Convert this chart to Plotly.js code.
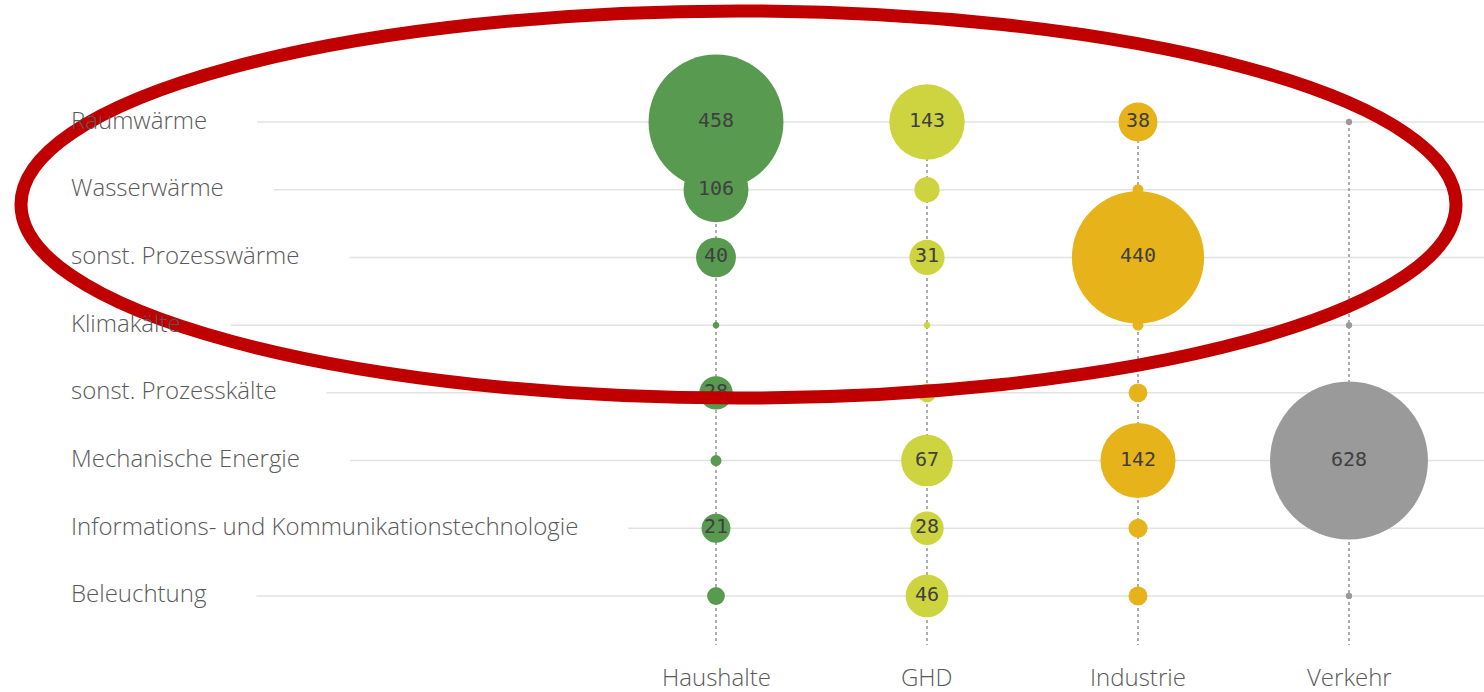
<!DOCTYPE html>
<html>
<head>
<meta charset="utf-8">
<script src="https://cdn.plot.ly/plotly-3.0.1.min.js"></script>
<style>
html,body{margin:0;padding:0;background:#fff;}
#chart{width:1484px;height:692px;}
</style>
</head>
<body>
<div id="chart"></div>
<script>
// ---- data ----
const categories = ["Raumwärme","Wasserwärme","sonst. Prozesswärme","Klimakälte","sonst. Prozesskälte","Mechanische Energie","Informations- und Kommunikationstechnologie","Beleuchtung"];
const sectors = ["Haushalte","GHD","Industrie","Verkehr"];
const haushalte = [458,106,40,1,28,3,21,8];
const ghd = [143,16,31,1,9,67,28,46];
const industrie = [38,3,440,3,9,142,9,9];
const verkehr = [1,0,0,1,0,628,0,1];
const seriesValues = [haushalte, ghd, industrie, verkehr];
const sectorColors = ["#579A50","#CDD43F","#E6B31A","#9A9A9A"];
const labelThreshold = 20;

// ---- geometry (pixels of the 1484x692 picture) ----
const W = 1484, H = 692;
const col0 = 716, colStep = 211;
const row0 = 122, rowStep = 67.71;
const xRange = [(0 - col0)/colStep, (W - col0)/colStep];
const yRange = [(H - row0)/rowStep, (0 - row0)/rowStep];
const lineBottom = (645 - row0)/rowStep;
const xLabelY = (676 - row0)/rowStep;
const maxDiam = 133;
const maxVal = Math.max(...seriesValues.flat());
const sizeref = 0.709 * 2*maxVal/(maxDiam*maxDiam);

const labelFont = {family:"Open Sans, sans-serif", size:24, color:"#595959", weight:300};
const rowIdx = categories.map((c,i)=>i);

const cv = document.createElement('canvas').getContext('2d');
cv.font = "300 24px 'Open Sans'";

const traces = [];
sectors.forEach((s,i)=>{
  traces.push({x:[i,i], y:[0,lineBottom], mode:'lines', type:'scatter',
    line:{color:'#9a9a9a', width:1.6, dash:'dot'}, hoverinfo:'skip', showlegend:false});
});
sectors.forEach((s,i)=>{
  const vals = seriesValues[i];
  traces.push({
    type:'scatter', mode:'markers+text', name:s,
    x: rowIdx.map(()=>i), y: rowIdx,
    marker:{size: vals, sizemode:'area', sizeref: sizeref, color: sectorColors[i], opacity:1, line:{width:0}},
    text: vals.map(v => v >= labelThreshold ? String(v) : ''),
    textposition:'middle center',
    textfont:{family:"DejaVu Sans Mono, monospace", size:20, color:'#404040'},
    showlegend:false, cliponaxis:false
  });
});

const shapes = [];
const annotations = [];
categories.forEach((c,i)=>{
  const w = cv.measureText(c).width;
  const startPx = 71 + w + 50;
  shapes.push({type:'line', layer:'below', xref:'paper', yref:'y', x0:startPx/W, x1:1, y0:i, y1:i,
    line:{color:'#e2e2e2', width:1.5}});
  annotations.push({xref:'paper', yref:'y', x:69/W, y:i, text:c, showarrow:false,
    xanchor:'left', yanchor:'middle', yshift:3, font:labelFont});
});
sectors.forEach((s,i)=>{
  annotations.push({xref:'x', yref:'y', x:i, y:xLabelY, text:s, showarrow:false,
    xanchor:'center', yanchor:'middle', font:labelFont});
});
shapes.push({type:'circle', layer:'above', xref:'paper', yref:'paper',
  x0:21/W, x1:1456/W, y0:1-398/H, y1:1-11/H, line:{color:'#C00000', width:13}});

const layout = {
  width:W, height:H,
  margin:{l:0,r:0,t:0,b:0},
  paper_bgcolor:'#fff', plot_bgcolor:'#fff',
  xaxis:{range:xRange, showgrid:false, zeroline:false, showticklabels:false, showline:false, fixedrange:true},
  yaxis:{range:yRange, showgrid:false, zeroline:false, showticklabels:false, showline:false, fixedrange:true},
  shapes:shapes, annotations:annotations, showlegend:false
};
Plotly.newPlot('chart', traces, layout, {displayModeBar:false, staticPlot:true});
</script>
</body>
</html>
